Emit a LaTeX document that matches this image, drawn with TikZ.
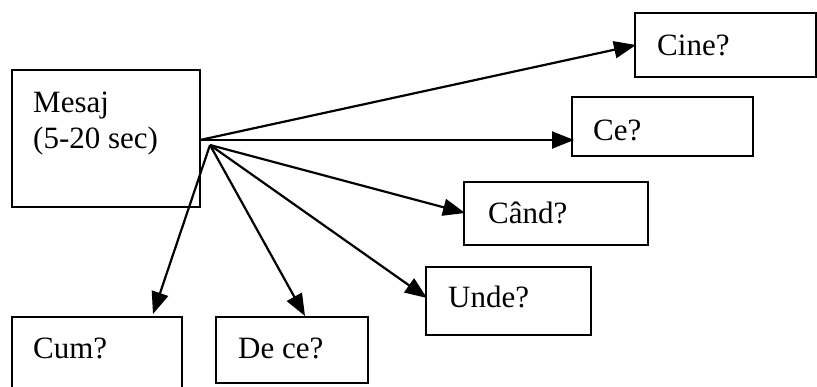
\documentclass[tikz,border=0pt]{standalone}
\usepackage{fontspec}
\setmainfont{Liberation Serif}
\usetikzlibrary{arrows.meta}
\begin{document}
\begin{tikzpicture}[x=1pt,y=-1pt,
  qbox/.style={draw,line width=2.2pt},
  lbl/.style={anchor=base west,inner sep=0pt,font=\fontsize{31}{37}\selectfont},
  link/.style={line width=2.2pt,-{Triangle[length=22pt,width=17pt]}}]
\useasboundingbox (0,0) rectangle (817,386);
% boxes
\draw[qbox] (12,70) rectangle (200,207);
\draw[qbox] (635,13) rectangle (816,77);
\draw[qbox] (572,97) rectangle (753,156);
\draw[qbox] (464,182) rectangle (648,245);
\draw[qbox] (426,267) rectangle (591,335);
\draw[qbox] (12,317) rectangle (182,390);
\draw[qbox] (216,317) rectangle (368,383);
% labels
\node[lbl] (mesaj) at (33,112) {Mesaj};
\node[lbl] (durata) at (33,148) {(5-20 sec)};
\node[lbl] (cine) at (657,55) {Cine?};
\node[lbl] (ce) at (593,140) {Ce?};
\node[lbl] (cand) at (488,223) {Când?};
\node[lbl] (unde) at (448,307) {Unde?};
\node[lbl] (cum) at (33,358) {Cum?};
\node[lbl] (dece) at (238,358) {De ce?};
% arrow ends
\coordinate (hubA) at (200,140);
\coordinate (hubB) at (210,145);
\coordinate (tCine) at (636,45);
\coordinate (tCe) at (574,140);
\coordinate (tCand) at (465,213);
\coordinate (tUnde) at (427,298);
\coordinate (tCum) at (153,314);
\coordinate (tDece) at (305,316);
% connectors
\draw[link] (hubA) -- (tCine);
\draw[link] (hubA) -- (tCe);
\draw[link] (hubB) -- (tCand);
\draw[link] (hubB) -- (tUnde);
\draw[link] (hubB) -- (tCum);
\draw[link] (hubB) -- (tDece);
\end{tikzpicture}
\end{document}
